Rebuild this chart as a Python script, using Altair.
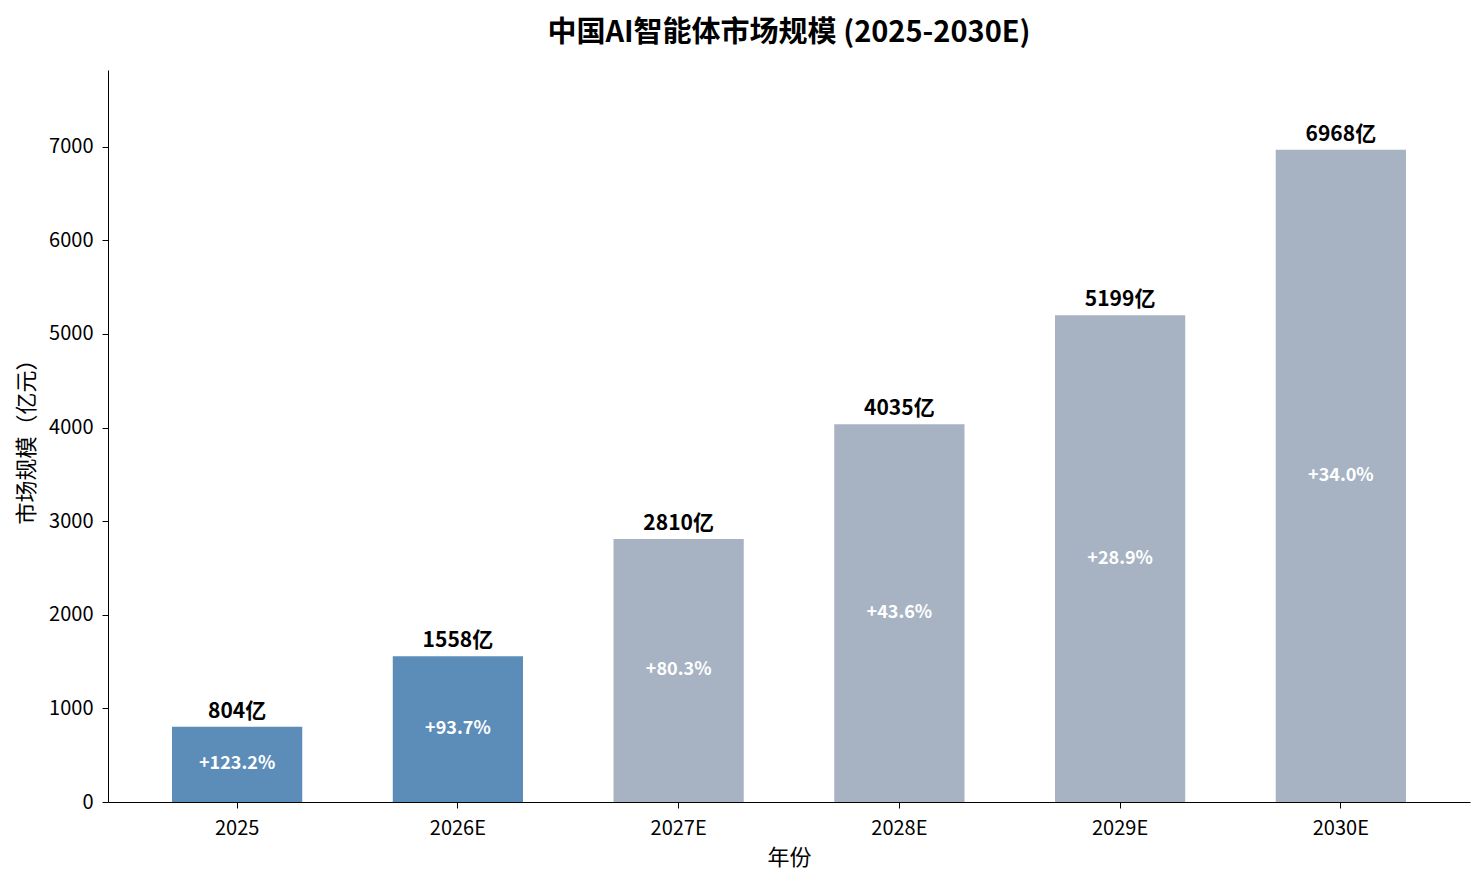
import altair as alt
import pandas as pd

years = ["2025", "2026E", "2027E", "2028E", "2029E", "2030E"]
market_size = [804, 1558, 2810, 4035, 5199, 6968]
growth_pct = [123.2, 93.7, 80.3, 43.6, 28.9, 34.0]
highlight_years = ["2025", "2026E"]

FONT = "Noto Sans CJK SC"

df = pd.DataFrame({"年份": years, "市场规模": market_size, "增长率": growth_pct})

base = alt.Chart(df).encode(
    x=alt.X("年份:N", sort=years, title="年份",
            scale=alt.Scale(paddingInner=0.41, paddingOuter=0.29),
            axis=alt.Axis(labelAngle=0, labelFontSize=20, titleFontSize=22,
                          titlePadding=9, labelPadding=10, tickSize=6,
                          labelFont=FONT, titleFont=FONT,
                          labelColor="#000", titleColor="#000",
                          domainColor="#000", tickColor="#000",
                          titleFontWeight="normal"))
)

bars = base.mark_bar().encode(
    y=alt.Y("市场规模:Q", title="市场规模（亿元）",
            scale=alt.Scale(domain=[0, 7820], nice=False),
            axis=alt.Axis(values=list(range(0, 8000, 1000)), format="d",
                          grid=False, labelFontSize=20, titleFontSize=22,
                          tickSize=6, labelPadding=9, titlePadding=10,
                          labelFont=FONT, titleFont=FONT,
                          labelColor="#000", titleColor="#000",
                          domainColor="#000", tickColor="#000",
                          titleFontWeight="normal")),
    color=alt.condition(
        alt.FieldOneOfPredicate(field="年份", oneOf=highlight_years),
        alt.value("#5B8DB8"), alt.value("#A7B3C3")),
)

value_labels = base.mark_text(
    font=FONT, fontSize=21, fontWeight="bold", color="#000",
    baseline="alphabetic", dy=-9
).transform_calculate(
    label="datum['市场规模'] + '亿'"
).encode(
    y="市场规模:Q",
    text="label:N",
)

growth_labels = base.mark_text(
    font=FONT, fontSize=18, fontWeight="bold", color="white", baseline="middle"
).transform_calculate(
    label="'+' + format(datum['增长率'], '.1f') + '%'",
    mid="datum['市场规模'] / 2",
).encode(
    y="mid:Q",
    text="label:N",
)

chart = alt.layer(bars, value_labels, growth_labels).properties(
    width=1362,
    height=732,
    title=alt.TitleParams("中国AI智能体市场规模 (2025-2030E)", fontSize=29,
                          font=FONT, fontWeight="bold", color="#000",
                          offset=22, anchor="middle"),
    autosize=alt.AutoSizeParams(type="none"),
    padding={"left": 100, "top": 62, "right": 6, "bottom": 74},
).configure(
    font=FONT,
).configure_view(
    stroke=None,
)

chart.save("out.html", embed_options={"renderer": "svg", "actions": False})
